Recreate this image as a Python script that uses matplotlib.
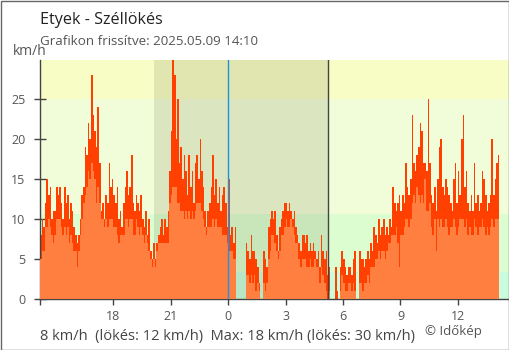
import numpy as np
import matplotlib
matplotlib.use("Agg")
import matplotlib.pyplot as plt
from matplotlib.patches import Rectangle

plt.rcParams['font.family'] = ['Open Sans', 'DejaVu Sans']

title = "Etyek - Széllökés"
subtitle = "Grafikon frissítve: 2025.05.09 14:10"
unit = "km/h"
summary = "8 km/h  (lökés: 12 km/h)  Max: 18 km/h (lökés: 30 km/h)"
credit = "© Időkép"

# time axis: hours relative to midnight, 5-minute steps starting 14:10 previous day
start_hour = -(9 + 50 / 60)
step_hours = 5 / 60

gust = [8,10,9,12,15,13,14,10,11,11,
        14,13,14,12,10,14,12,13,10,12,
        11,9,8,7,8,10,13,14,19,18,
        22,20,28,23,21,19,24,17,11,12,
        10,13,12,17,14,15,13,12,14,10,
        11,9,12,14,16,13,14,18,12,11,
        13,12,11,13,10,9,11,8,10,6,
        5,7,5,7,8,9,10,8,10,9,
        11,16,21,30,28,20,25,17,19,15,
        18,16,13,18,14,16,12,17,18,15,
        20,16,14,11,9,11,12,14,18,13,
        15,12,14,11,13,14,12,9,15,8,
        9,7,9,0,0,0,0,0,0,7,
        6,5,8,6,6,5,4,2,0,0,
        6,5,4,9,10,11,10,11,8,6,
        9,10,11,12,12,11,12,11,10,11,
        9,8,7,6,8,8,7,8,6,7,
        6,7,6,5,6,4,8,6,5,6,
        3,4,0,0,0,4,1,0,4,6,
        5,4,3,4,4,3,5,6,0,0,
        6,5,5,4,5,6,5,7,6,9,
        8,7,10,8,9,10,8,9,8,10,
        9,14,12,11,12,13,11,13,12,17,
        14,13,15,23,17,16,18,19,22,21,
        17,17,16,25,17,13,12,14,11,15,
        19,20,14,13,15,14,13,12,11,15,
        17,12,16,13,20,23,14,16,12,11,
        13,11,17,12,13,11,12,16,15,13,
        11,12,13,20,13,15,17,18]

wind = [5,6,6,9,9,10,9,8,7,8,
        10,10,10,9,8,9,8,9,7,8,
        7,6,6,4,6,8,10,12,13,14,
        16,15,17,16,15,12,14,12,10,10,
        9,10,9,10,10,10,9,9,8,7,
        8,8,8,10,10,9,10,10,8,8,
        10,9,8,9,8,7,8,7,6,5,
        4,5,4,6,7,7,7,7,7,7,
        7,12,13,14,14,14,12,12,11,11,
        10,11,10,11,10,11,10,11,12,12,
        12,11,10,9,8,9,9,9,10,9,
        10,9,9,9,8,8,8,7,6,6,
        6,5,5,0,0,0,0,0,0,3,
        3,2,3,2,3,1,2,1,0,0,
        2,1,2,5,6,8,8,7,6,5,
        6,8,8,9,10,9,9,10,9,8,
        7,7,5,4,5,5,5,4,4,5,
        4,4,5,4,4,2,4,3,2,1,
        0,1,0,0,0,0,0,0,1,3,
        2,1,1,2,2,1,2,1,0,0,
        2,2,1,2,2,3,2,4,4,4,
        5,5,6,5,6,6,5,6,7,7,
        8,8,8,9,7,4,8,8,9,10,
        10,9,10,12,13,12,14,13,12,13,
        12,15,11,11,12,9,8,10,6,10,
        9,10,9,9,10,9,8,9,9,10,
        9,8,9,10,10,10,9,10,8,9,
        8,8,10,9,8,9,9,10,9,8,
        9,8,9,10,9,10,10,10]

band_edges = [0, 3.4, 10.7, 25, 29.9]
band_colors = ["#c9fcdc", "#dcfdd0", "#f1fdd8", "#f7fdc4"]
sunset, sunrise = -3.87, 5.23
xticks = [-6, -3, 0, 3, 6, 9, 12]
xticklabels = ["18", "21", "0", "3", "6", "9", "12"]
yticks = [0, 5, 10, 15, 20, 25]

edges = start_hour + np.arange(len(gust) + 1) * step_hours

W, H = 510, 350
fig = plt.figure(figsize=(W / 100, H / 100), dpi=100)
ax = fig.add_axes([40 / W, (H - 299.3) / H, 469 / W, 239.3 / H])
xmin, xmax = start_hour, 14.67
ax.set_xlim(xmin, xmax)
ax.set_ylim(0, 29.9)

for lo, hi, c in zip(band_edges[:-1], band_edges[1:], band_colors):
    ax.axhspan(lo, hi, color=c, lw=0, zorder=0)
ax.axvspan(sunset, sunrise, color="#202000", alpha=0.1, lw=0, zorder=0.5)

ax.stairs(gust, edges, fill=True, color="#ff4000", lw=0, zorder=2)
ax.stairs(wind, edges, fill=True, color="#ff7f40", lw=0, zorder=3)

ax.axvline(0, color="#2090e0", lw=1, zorder=4)
ax.axvline(sunrise, color="#444444", lw=1, zorder=4)

for s in ["top", "right"]:
    ax.spines[s].set_visible(False)
for s in ["left", "bottom"]:
    ax.spines[s].set_color("#444444")
    ax.spines[s].set_linewidth(1)

ax.set_yticks(yticks)
ax.set_yticklabels([str(v) for v in yticks])
ax.tick_params(axis="y", direction="inout", length=9, width=1, color="#444444",
               labelcolor="#555555", labelsize=9, pad=6)
ax.set_xticks(xticks)
ax.set_xticklabels(xticklabels)
ax.set_xticks([xmin], minor=True)
ax.tick_params(axis="x", which="both", direction="out", length=4.5, width=1,
               color="#444444", labelcolor="#555555", labelsize=9, pad=3)
ax.get_xticklines()[4].set_color("#2090e0")

fig.text(40 / W, 1 - 24 / H, title, fontsize=11.6, color="#222222", ha="left", va="baseline")
fig.text(40 / W, 1 - 45 / H, subtitle, fontsize=9.6, color="#555555", ha="left", va="baseline")
fig.text(13 / W, 1 - 55 / H, unit, fontsize=10, color="#555555", ha="left", va="baseline")
fig.text(40 / W, 1 - 340 / H, summary, fontsize=10.5, color="#444444", ha="left", va="baseline")
fig.text(425 / W, 1 - 335 / H, credit, fontsize=9.5, color="#555555", ha="left", va="baseline")

fig.patches.append(Rectangle((0.5 / W, 0.5 / H), 1 - 1 / W, 1 - 1 / H, transform=fig.transFigure,
                             fill=False, edgecolor="#666666", lw=1))

fig.savefig("out.png", dpi=100)
